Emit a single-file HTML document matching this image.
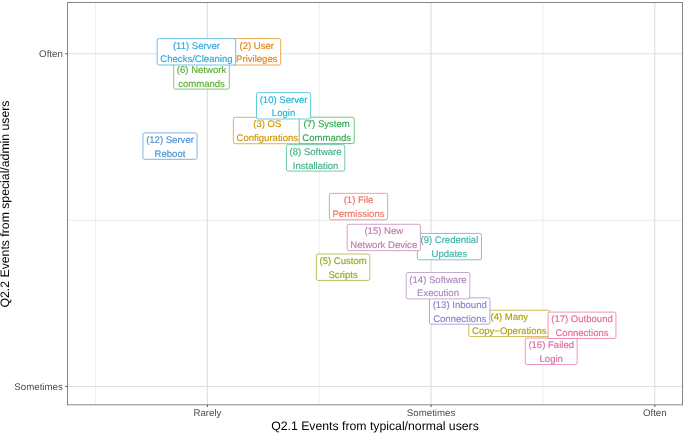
<!DOCTYPE html>
<html><head><meta charset="utf-8"><style>
html,body{margin:0;padding:0;background:#fff;}
svg{display:block;will-change:transform;text-rendering:geometricPrecision;filter:blur(0.45px);font-family:"Liberation Sans",sans-serif;}
</style></head><body>
<svg width="685" height="433" viewBox="0 0 685 433">
<rect x="0" y="0" width="685" height="433" fill="#fff"/>
<line x1="95.55" y1="2.5" x2="95.55" y2="404.8" stroke="#EBEBEB" stroke-width="0.9"/><line x1="319.25" y1="2.5" x2="319.25" y2="404.8" stroke="#EBEBEB" stroke-width="0.9"/><line x1="542.95" y1="2.5" x2="542.95" y2="404.8" stroke="#EBEBEB" stroke-width="0.9"/><line x1="67.5" y1="220.3" x2="682.5" y2="220.3" stroke="#EBEBEB" stroke-width="0.9"/><line x1="207.4" y1="2.5" x2="207.4" y2="404.8" stroke="#DEDFE2" stroke-width="1.1"/><line x1="431.1" y1="2.5" x2="431.1" y2="404.8" stroke="#DEDFE2" stroke-width="1.1"/><line x1="654.8" y1="2.5" x2="654.8" y2="404.8" stroke="#DEDFE2" stroke-width="1.1"/><line x1="67.5" y1="53.7" x2="682.5" y2="53.7" stroke="#DEDFE2" stroke-width="1.1"/><line x1="67.5" y1="386.5" x2="682.5" y2="386.5" stroke="#DEDFE2" stroke-width="1.1"/>
<g font-size="9.55" text-anchor="middle" stroke-width="0.15">
<g><rect x="329.35" y="193.35" width="58.30" height="26.40" rx="1.8" fill="#fff" stroke="#EE7268" stroke-width="0.7"/><text x="358.50" y="203.35" fill="#EE7268" stroke="#EE7268">(1) File</text><text x="358.50" y="217.20" fill="#EE7268" stroke="#EE7268">Permissions</text></g><g><rect x="232.95" y="38.60" width="47.70" height="26.40" rx="1.8" fill="#fff" stroke="#E5830F" stroke-width="0.7"/><text x="256.80" y="48.60" fill="#E5830F" stroke="#E5830F">(2) User</text><text x="256.80" y="62.45" fill="#E5830F" stroke="#E5830F">Privileges</text></g><g><rect x="233.35" y="117.30" width="67.90" height="26.40" rx="1.8" fill="#fff" stroke="#CE9404" stroke-width="0.7"/><text x="267.30" y="127.30" fill="#CE9404" stroke="#CE9404">(3) OS</text><text x="267.30" y="141.15" fill="#CE9404" stroke="#CE9404">Configurations</text></g><g><rect x="468.85" y="310.20" width="80.90" height="26.40" rx="1.8" fill="#fff" stroke="#B3A200" stroke-width="0.7"/><text x="509.30" y="320.20" fill="#B3A200" stroke="#B3A200">(4) Many</text><text x="509.30" y="334.05" fill="#B3A200" stroke="#B3A200">Copy−Operations</text></g><g><rect x="316.35" y="254.00" width="53.50" height="26.40" rx="1.8" fill="#fff" stroke="#8CAD1A" stroke-width="0.7"/><text x="343.10" y="264.00" fill="#8CAD1A" stroke="#8CAD1A">(5) Custom</text><text x="343.10" y="277.85" fill="#8CAD1A" stroke="#8CAD1A">Scripts</text></g><g><rect x="173.70" y="62.70" width="55.60" height="26.40" rx="1.8" fill="#fff" stroke="#5AB032" stroke-width="0.7"/><text x="201.50" y="72.70" fill="#5AB032" stroke="#5AB032">(6) Network</text><text x="201.50" y="86.55" fill="#5AB032" stroke="#5AB032">commands</text></g><g><rect x="299.15" y="117.20" width="55.10" height="26.40" rx="1.8" fill="#fff" stroke="#2FAA4C" stroke-width="0.7"/><text x="326.70" y="127.20" fill="#2FAA4C" stroke="#2FAA4C">(7) System</text><text x="326.70" y="141.05" fill="#2FAA4C" stroke="#2FAA4C">Commands</text></g><g><rect x="286.45" y="144.70" width="58.30" height="26.40" rx="1.8" fill="#fff" stroke="#3EB284" stroke-width="0.7"/><text x="315.60" y="154.70" fill="#3EB284" stroke="#3EB284">(8) Software</text><text x="315.60" y="168.55" fill="#3EB284" stroke="#3EB284">Installation</text></g><g><rect x="417.35" y="233.40" width="64.10" height="26.40" rx="1.8" fill="#fff" stroke="#39B5AB" stroke-width="0.7"/><text x="449.40" y="243.40" fill="#39B5AB" stroke="#39B5AB">(9) Credential</text><text x="449.40" y="257.25" fill="#39B5AB" stroke="#39B5AB">Updates</text></g><g><rect x="256.50" y="92.60" width="54.10" height="26.40" rx="1.8" fill="#fff" stroke="#1DB7D1" stroke-width="0.7"/><text x="283.55" y="102.60" fill="#1DB7D1" stroke="#1DB7D1">(10) Server</text><text x="283.55" y="116.45" fill="#1DB7D1" stroke="#1DB7D1">Login</text></g><g><rect x="157.20" y="38.60" width="78.50" height="26.40" rx="1.8" fill="#fff" stroke="#30A6DE" stroke-width="0.7"/><text x="196.45" y="48.60" fill="#30A6DE" stroke="#30A6DE">(11) Server</text><text x="196.45" y="62.45" fill="#30A6DE" stroke="#30A6DE">Checks/Cleaning</text></g><g><rect x="142.95" y="132.90" width="54.10" height="26.40" rx="1.8" fill="#fff" stroke="#4A93D4" stroke-width="0.7"/><text x="170.00" y="142.90" fill="#4A93D4" stroke="#4A93D4">(12) Server</text><text x="170.00" y="156.75" fill="#4A93D4" stroke="#4A93D4">Reboot</text></g><g><rect x="429.50" y="297.80" width="60.40" height="26.40" rx="1.8" fill="#fff" stroke="#8686C8" stroke-width="0.7"/><text x="459.70" y="307.80" fill="#8686C8" stroke="#8686C8">(13) Inbound</text><text x="459.70" y="321.65" fill="#8686C8" stroke="#8686C8">Connections</text></g><g><rect x="406.20" y="272.50" width="63.60" height="26.40" rx="1.8" fill="#fff" stroke="#AC87BD" stroke-width="0.7"/><text x="438.00" y="282.50" fill="#AC87BD" stroke="#AC87BD">(14) Software</text><text x="438.00" y="296.35" fill="#AC87BD" stroke="#AC87BD">Execution</text></g><g><rect x="347.20" y="224.30" width="73.20" height="26.40" rx="1.8" fill="#fff" stroke="#C17BB2" stroke-width="0.7"/><text x="383.80" y="234.30" fill="#C17BB2" stroke="#C17BB2">(15) New</text><text x="383.80" y="248.15" fill="#C17BB2" stroke="#C17BB2">Network Device</text></g><g><rect x="525.25" y="338.10" width="51.90" height="26.40" rx="1.8" fill="#fff" stroke="#DE6AA6" stroke-width="0.7"/><text x="551.20" y="348.10" fill="#DE6AA6" stroke="#DE6AA6">(16) Failed</text><text x="551.20" y="361.95" fill="#DE6AA6" stroke="#DE6AA6">Login</text></g><g><rect x="548.05" y="312.10" width="67.90" height="26.40" rx="1.8" fill="#fff" stroke="#EC6697" stroke-width="0.7"/><text x="582.00" y="322.10" fill="#EC6697" stroke="#EC6697">(17) Outbound</text><text x="582.00" y="335.95" fill="#EC6697" stroke="#EC6697">Connections</text></g>
</g>
<rect x="67.5" y="2.5" width="615.0" height="402.3" fill="none" stroke="#858585" stroke-width="1"/>
<line x1="207.4" y1="404.8" x2="207.4" y2="407.0" stroke="#555" stroke-width="1"/><line x1="431.1" y1="404.8" x2="431.1" y2="407.0" stroke="#555" stroke-width="1"/><line x1="654.8" y1="404.8" x2="654.8" y2="407.0" stroke="#555" stroke-width="1"/><line x1="65.3" y1="53.7" x2="67.5" y2="53.7" stroke="#555" stroke-width="1"/><line x1="65.3" y1="386.5" x2="67.5" y2="386.5" stroke="#555" stroke-width="1"/>
<text x="207.4" y="416.2" font-size="9.7" fill="#4D4D4D" text-anchor="middle">Rarely</text><text x="431.1" y="416.2" font-size="9.7" fill="#4D4D4D" text-anchor="middle">Sometimes</text><text x="654.8" y="416.2" font-size="9.7" fill="#4D4D4D" text-anchor="middle">Often</text><text x="62.8" y="57.20" font-size="9.7" fill="#4D4D4D" text-anchor="end">Often</text><text x="62.8" y="390.00" font-size="9.7" fill="#4D4D4D" text-anchor="end">Sometimes</text>
<text x="375" y="430" font-size="12.25" fill="#000" text-anchor="middle">Q2.1 Events from typical/normal users</text>
<text transform="translate(9.3,204.0) rotate(-90)" x="0" y="0" font-size="12.25" fill="#000" text-anchor="middle">Q2.2 Events from special/admin users</text>
</svg>
</body></html>
